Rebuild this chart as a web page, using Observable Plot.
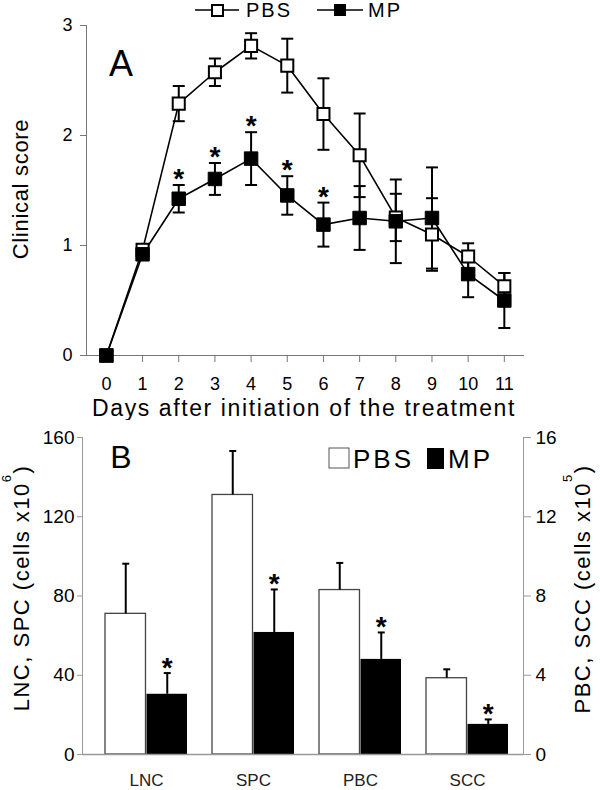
<!DOCTYPE html>
<html><head><meta charset="utf-8">
<script src="https://cdn.jsdelivr.net/npm/d3@7"></script>
<script src="https://cdn.jsdelivr.net/npm/@observablehq/plot@0.6"></script>
<style>
body{margin:0;background:#fff;font-family:"Liberation Sans",Arial,sans-serif;}
#chart{width:600px;height:790px;position:relative;background:#fff;}
svg{display:block;}
</style></head><body><div id="chart"></div>
<script>
// ---- Panel A data ----
const days = [0,1,2,3,4,5,6,7,8,9,10,11];
const pbsScore    = [0,0.96,2.29,2.575,2.815,2.635,2.195,1.82,1.255,1.10,0.90,0.63];
const pbsScoreErr = [0,0.03,0.16,0.125,0.115,0.245,0.325,0.38,0.215,0.33,0.12,0.12];
const mpScore     = [0,0.92,1.425,1.605,1.79,1.455,1.19,1.25,1.22,1.25,0.74,0.50];
const mpScoreErr  = [0,0.03,0.125,0.145,0.24,0.175,0.20,0.29,0.38,0.46,0.21,0.25];
const mpSignificantDays = [2,3,4,5,6];
const scoreTicks = [0,1,2,3];

// ---- Panel B data ----
const cellTypes = ["LNC","SPC","PBC","SCC"];
const cellAxis  = ["left","left","right","right"]; // left: x10^6, right: x10^5
const pbsCells    = [71,131,8.3,3.85];
const pbsCellsErr = [25.3,22.2,1.37,0.45];
const mpCells     = [30.4,61.6,4.8,1.52];
const mpCellsErr  = [10.7,21.7,1.36,0.25];
const mpSignificantCells = ["LNC","SPC","PBC","SCC"];
const leftTicks  = [0,40,80,120,160];
const rightTicks = [0,4,8,12,16];

const FONT = '"Liberation Sans", Arial, sans-serif';
const capSymbol = {draw(ctx, size){const w = Math.sqrt(size/Math.PI); ctx.moveTo(-w,0); ctx.lineTo(w,0);}};

// ---------- Panel A ----------
const pbsRows = days.map((d,i)=>({day:d, v:pbsScore[i], lo:pbsScore[i]-pbsScoreErr[i], hi:pbsScore[i]+pbsScoreErr[i]}));
const mpRows  = days.map((d,i)=>({day:d, v:mpScore[i],  lo:mpScore[i]-mpScoreErr[i],  hi:mpScore[i]+mpScoreErr[i]}));

const errMarks = rows => [
  Plot.ruleX(rows, {x:"day", y1:"lo", y2:"hi", stroke:"black", strokeWidth:2}),
  Plot.dot(rows, {x:"day", y:"lo", symbol:capSymbol, r:6, fill:"none", stroke:"black", strokeWidth:2}),
  Plot.dot(rows, {x:"day", y:"hi", symbol:capSymbol, r:6, fill:"none", stroke:"black", strokeWidth:2})
];

const plotA = Plot.plot({
  width:600, height:420, marginLeft:86, marginRight:77, marginTop:25, marginBottom:65,
  style:{fontFamily:FONT, fontSize:"18px", color:"black", background:"white"},
  x:{domain:[-0.55,11.53]},
  y:{domain:[0,3]},
  marks:[
    Plot.frame({anchor:"left", stroke:"#777"}),
    Plot.frame({anchor:"bottom", stroke:"#777"}),
    Plot.axisY({ticks:scoreTicks, tickSize:6, tickPadding:8, label:null, tickFormat:d=>String(d), stroke:"#777", fill:"black", fontSize:18}),
    Plot.axisX({ticks:days, tickSize:7, tickPadding:15, label:null, tickFormat:d=>String(d), stroke:"#777", fill:"black", fontSize:18}),
    ...errMarks(pbsRows),
    ...errMarks(mpRows),
    Plot.line(pbsRows, {x:"day", y:"v", stroke:"black", strokeWidth:1.6}),
    Plot.line(mpRows,  {x:"day", y:"v", stroke:"black", strokeWidth:1.6}),
    Plot.dot(pbsRows, {x:"day", y:"v", symbol:"square", r:6.8, fill:"white", stroke:"black", strokeWidth:2}),
    Plot.dot(mpRows,  {x:"day", y:"v", symbol:"square", r:7.6, fill:"black", stroke:"black", strokeWidth:1}),
    Plot.text(mpRows.filter(r=>mpSignificantDays.includes(r.day)), {x:"day", y:"hi", text:()=>"*", dy:-6, fontSize:28, fontWeight:"bold", fill:"black"})
  ]
});

// ---------- Panel B ----------
const W=600, mL=82, mR=77, pIn=0.23, pOut=0.16;
const step = (W-mL-mR)/(cellTypes.length - pIn + 2*pOut);
const bw = step*(1-pIn);
const scaleOf = i => cellAxis[i]==="right" ? 10 : 1;
const pbsCellRows = cellTypes.map((c,i)=>({cat:c, v:pbsCells[i]*scaleOf(i), hi:(pbsCells[i]+pbsCellsErr[i])*scaleOf(i)}));
const mpCellRows  = cellTypes.map((c,i)=>({cat:c, v:mpCells[i]*scaleOf(i),  hi:(mpCells[i]+mpCellsErr[i])*scaleOf(i)}));

const barErr = (rows, dx) => [
  Plot.ruleX(rows, {x:"cat", y1:"v", y2:"hi", dx, stroke:"black", strokeWidth:2}),
  Plot.dot(rows, {x:"cat", y:"hi", dx, symbol:capSymbol, r:3.5, fill:"none", stroke:"black", strokeWidth:2})
];

const plotB = Plot.plot({
  width:600, height:370, marginLeft:mL, marginRight:mR, marginTop:17, marginBottom:36,
  style:{fontFamily:FONT, fontSize:"18px", color:"black", background:"white"},
  x:{domain:cellTypes, paddingInner:pIn, paddingOuter:pOut, align:0.6},
  y:{domain:[0,160]},
  marks:[
    Plot.barY(pbsCellRows, {x:"cat", y:"v", fill:"white", stroke:"#444", strokeWidth:1.3, insetRight:bw/2}),
    Plot.barY(mpCellRows,  {x:"cat", y:"v", fill:"black", insetLeft:bw/2}),
    ...barErr(pbsCellRows, -bw/4),
    ...barErr(mpCellRows, bw/4),
    Plot.text(mpCellRows.filter(r=>mpSignificantCells.includes(r.cat)), {x:"cat", y:"hi", dx:bw/4, dy:-5, text:()=>"*", fontSize:28, fontWeight:"bold", fill:"black"}),
    Plot.ruleY([0], {stroke:"#999", strokeWidth:1.5}),
    Plot.frame({anchor:"left", stroke:"#999"}),
    Plot.frame({anchor:"right", stroke:"#999"}),
    Plot.axisY({anchor:"left", ticks:leftTicks, tickSize:5, tickPadding:3, label:null, stroke:"#999", fill:"black", fontSize:19}),
    Plot.axisY({anchor:"right", ticks:rightTicks.map(t=>t*10), tickFormat:d=>String(d/10), tickSize:7, tickPadding:5, label:null, stroke:"#999", fill:"black", fontSize:19}),
    Plot.axisX({tickSize:0, tickPadding:19, label:null, fill:"#222", fontSize:17})
  ]
});

const chart = document.getElementById("chart");
chart.appendChild(plotA);
chart.appendChild(plotB);

// ---------- annotations ----------
function txt(svg, s, x, y, o={}) {
  const t = d3.select(svg).append("text").attr("x",x).attr("y",y)
    .attr("font-family",FONT).attr("font-size",o.size||18).attr("fill","black")
    .attr("text-anchor",o.anchor||"start").attr("letter-spacing",o.ls||0)
    .attr("font-weight",o.weight||"normal");
  if (o.transform) t.attr("transform",o.transform);
  t.text(s);
  return t;
}
// Panel A
txt(plotA, "A", 121, 76, {size:36, anchor:"middle"});
txt(plotA, "Clinical score", 0, 0, {size:22, anchor:"middle", ls:0.7, transform:"translate(28,189) rotate(-90)"});
txt(plotA, "Days after initiation of the treatment", 304, 416, {size:23, anchor:"middle", ls:1.6});
const gA = d3.select(plotA).append("g");
gA.append("line").attr("x1",195).attr("x2",239).attr("y1",10).attr("y2",10).attr("stroke","black").attr("stroke-width",1.6);
gA.append("rect").attr("x",212).attr("y",5).attr("width",11).attr("height",11).attr("fill","white").attr("stroke","black").attr("stroke-width",2);
txt(plotA, "PBS", 246, 17, {size:20, ls:2});
gA.append("line").attr("x1",317).attr("x2",363).attr("y1",10).attr("y2",10).attr("stroke","black").attr("stroke-width",1.6);
gA.append("rect").attr("x",334).attr("y",4).attr("width",12).attr("height",12).attr("fill","black");
txt(plotA, "MP", 368, 17, {size:20, ls:2});

// Panel B
txt(plotB, "B", 121, 48, {size:32, anchor:"middle"});
function supLabel(svg, main, sup, tx, ty) {
  const t = d3.select(svg).append("text").attr("transform",`translate(${tx},${ty}) rotate(-90)`)
    .attr("font-family",FONT).attr("font-size",22).attr("text-anchor","middle").attr("letter-spacing",1.5).attr("fill","black");
  t.append("tspan").text(main);
  t.append("tspan").attr("font-size",13).attr("dy",-18).text(sup);
  t.append("tspan").attr("dy",18).text(")");
}
supLabel(plotB, "LNC, SPC (cells x10", "6", 29, 168);
supLabel(plotB, "PBC, SCC (cells x10", "5", 590, 169);
const gB = d3.select(plotB).append("g");
gB.append("rect").attr("x",329).attr("y",28).attr("width",20).attr("height",20).attr("fill","white").attr("stroke","#555").attr("stroke-width",1);
txt(plotB, "PBS", 353, 48, {size:26, ls:3});
gB.append("rect").attr("x",427).attr("y",28).attr("width",17).attr("height",21).attr("fill","black");
txt(plotB, "MP", 448, 48, {size:26, ls:3});
</script></body></html>
